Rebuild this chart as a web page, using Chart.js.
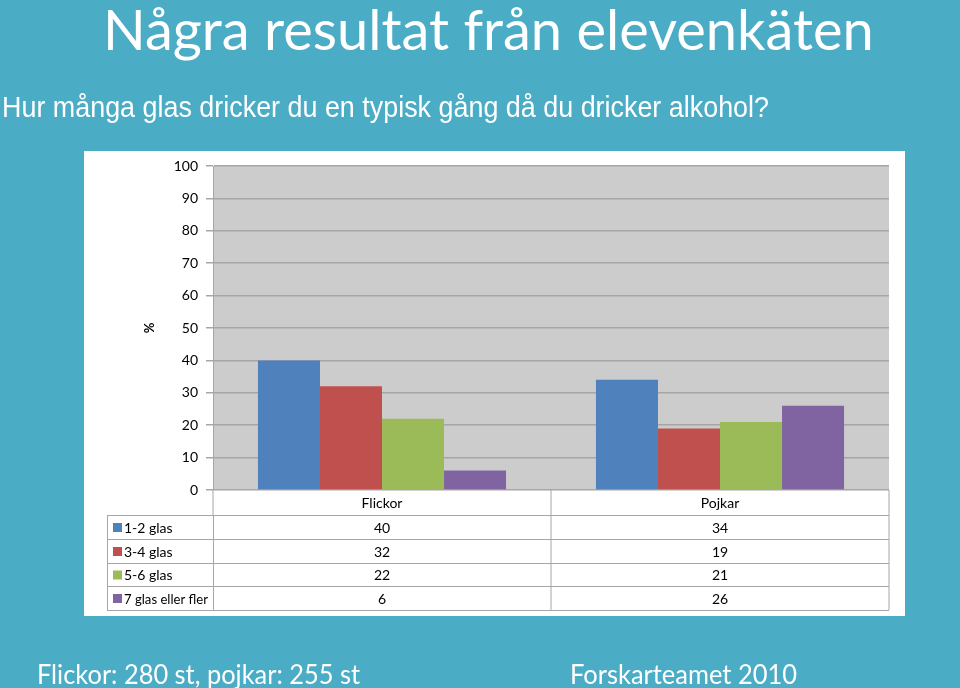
<!DOCTYPE html>
<html>
<head>
<meta charset="utf-8">
<script src="https://cdn.jsdelivr.net/npm/chart.js@4"></script>
<style>
  html, body { margin: 0; padding: 0; background: #4bacc6; }
  #wrap { width: 960px; height: 688px; }
</style>
</head>
<body>
<div id="wrap"><canvas id="chart" width="960" height="688"></canvas></div>
<script>
const categories = ['Flickor', 'Pojkar'];
const seriesNames = ['1-2 glas', '3-4 glas', '5-6 glas', '7 glas eller fler'];
const glas12 = [40, 34];
const glas34 = [32, 19];
const glas56 = [22, 21];
const glas7 = [6, 26];
const yTicks = [0, 10, 20, 30, 40, 50, 60, 70, 80, 90, 100];

const colors = ['#4f81bd', '#c0504d', '#9bbb59', '#8064a2'];
const values = [glas12, glas34, glas56, glas7];
const font = 'Lato, "Open Sans", sans-serif';

// background, white panel, grey plot area
const backdrop = {
  id: 'backdrop',
  beforeDraw(c) {
    const ctx = c.ctx, a = c.chartArea;
    ctx.save();
    ctx.fillStyle = '#4bacc6';
    ctx.fillRect(0, 0, c.width, c.height);
    ctx.fillStyle = '#ffffff';
    ctx.fillRect(84, 151, 821, 465);
    ctx.fillStyle = '#cccccc';
    ctx.fillRect(a.left, a.top, a.right - a.left, a.bottom - a.top);
    ctx.restore();
  }
};

// texts around the chart and the data table under it
const extras = {
  id: 'extras',
  afterDraw(c) {
    const ctx = c.ctx, a = c.chartArea, x = c.scales.x;
    ctx.save();
    ctx.fillStyle = '#ffffff';
    ctx.textBaseline = 'alphabetic';
    ctx.textAlign = 'left';
    ctx.font = '56px ' + font;
    ctx.fillText('Några resultat från elevenkäten', 103, 50, 784);
    ctx.font = '30px "Liberation Sans", Arial, sans-serif';
    ctx.fillText('Hur många glas dricker du en typisk gång då du dricker alkohol?', 2, 117, 767);
    ctx.font = '27px ' + font;
    ctx.fillText('Flickor: 280 st, pojkar: 255 st', 37, 684, 323);
    ctx.fillText('Forskarteamet 2010', 570, 684, 227);

    // table
    const labelLeft = 107;
    const headTop = a.bottom, headBottom = 515;
    const rows = [515, 539, 563, 586, 610];
    const mid = (a.left + a.right) / 2;
    ctx.strokeStyle = '#a6a6a6';
    ctx.lineWidth = 1;
    ctx.beginPath();
    ctx.moveTo(a.left, headTop); ctx.lineTo(a.left, headBottom);
    ctx.moveTo(mid, headTop); ctx.lineTo(mid, rows[4]);
    ctx.moveTo(a.right, headTop); ctx.lineTo(a.right, rows[4]);
    rows.forEach(y => { ctx.moveTo(labelLeft, y + 0.5); ctx.lineTo(a.right, y + 0.5); });
    ctx.moveTo(labelLeft + 0.5, rows[0]); ctx.lineTo(labelLeft + 0.5, rows[4]);
    ctx.moveTo(a.left + 0.5, rows[0]); ctx.lineTo(a.left + 0.5, rows[4]);
    ctx.stroke();

    ctx.fillStyle = '#000000';
    ctx.font = '14px ' + font;
    ctx.textBaseline = 'middle';
    ctx.textAlign = 'center';
    categories.forEach((cat, i) => {
      const cx = x.getPixelForValue(i);
      ctx.fillText(cat, cx, (headTop + headBottom) / 2 + 1);
      values.forEach((v, j) => {
        ctx.fillText(String(v[i]), cx, (rows[j] + rows[j + 1]) / 2 + 1);
      });
    });
    ctx.textAlign = 'left';
    seriesNames.forEach((name, j) => {
      const cy = (rows[j] + rows[j + 1]) / 2;
      ctx.fillStyle = colors[j];
      ctx.fillRect(113, cy - 4, 9, 9);
      ctx.fillStyle = '#000000';
      ctx.fillText(name, 124, cy + 1, 84);
    });
    ctx.restore();
  }
};

new Chart(document.getElementById('chart'), {
  type: 'bar',
  data: {
    labels: categories,
    datasets: seriesNames.map((name, j) => ({
      label: name,
      data: values[j],
      backgroundColor: colors[j],
      borderWidth: 0,
      categoryPercentage: 0.734,
      barPercentage: 1
    }))
  },
  options: {
    responsive: false,
    animation: false,
    layout: { padding: { left: 138, top: 166, right: 71, bottom: 198 } },
    plugins: { legend: { display: false }, tooltip: { enabled: false } },
    scales: {
      x: { display: false },
      y: {
        min: 0,
        max: 100,
        afterBuildTicks(s) { s.ticks = yTicks.map(v => ({ value: v })); },
        afterFit(s) { s.width = 75; },
        ticks: { color: '#000000', padding: 8, font: { family: font, size: 14 } },
        grid: { color: '#a6a6a6', lineWidth: 1.5, tickLength: 7 },
        border: { display: true, color: '#a6a6a6', width: 1 },
        title: {
          display: true,
          text: '%',
          color: '#000000',
          font: { family: font, size: 13, weight: 'bold' }
        }
      }
    }
  },
  plugins: [backdrop, extras]
});
</script>
</body>
</html>
